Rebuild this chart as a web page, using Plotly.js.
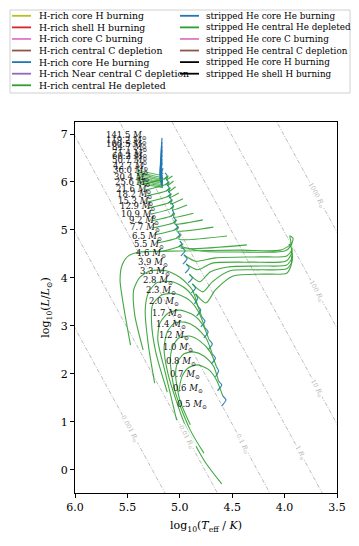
<!DOCTYPE html>
<html><head><meta charset="utf-8">
<script src="https://cdn.plot.ly/plotly-3.0.1.min.js"></script>
<style>html,body{margin:0;padding:0;background:#fff}#chart{width:359px;height:546px}</style>
</head><body><div id="chart"></div>
<script>
// ---------------- data ----------------
const massLabels = ["141.5","119.2","100.5","84.7","71.4","60.2","50.7","42.7","36.0","30.4","25.6","21.6","18.2","15.3","12.9","10.9","9.2","7.7","6.5","5.5","4.6","3.9","3.3","2.8","2.3","2.0","1.7","1.4","1.2","1.0","0.8","0.7","0.6","0.5"];

// stripped He star, core He burning (first point = He-ZAMS)
const heBurnLogT = [
 [5.17,5.18,5.165],[5.17,5.185,5.165],[5.17,5.175,5.165],[5.17,5.18,5.165],[5.17,5.19,5.165],
 [5.17,5.175,5.165],[5.17,5.185,5.165],[5.16,5.18,5.165],[5.16,5.19,5.165],
 [5.15,5.12,5.14],[5.14,5.11,5.13],[5.13,5.10,5.12],[5.12,5.09,5.11],[5.11,5.08,5.10],
 [5.09,5.06,5.08],[5.08,5.06,5.07],[5.06,5.04,5.06],[5.05,5.02,5.04],[5.03,5.00,5.02],[5.01,4.98,5.00],
 [4.99,4.95,4.98],[4.97,4.93,4.96],[4.95,4.91,4.94],[4.92,4.88,4.91],[4.89,4.85,4.88],[4.86,4.83,4.85],
 [4.84,4.80,4.83],[4.80,4.76,4.79],[4.77,4.73,4.76],[4.73,4.69,4.72],[4.70,4.66,4.69],[4.66,4.63,4.65],
 [4.64,4.60,4.63],[4.60,4.56,4.59]
];
const heBurnLogL = [
 [6.92,6.15,6.13],[6.83,6.15,6.09],[6.75,6.15,6.06],[6.67,6.15,6.03],[6.56,6.15,6.00],
 [6.48,6.15,5.97],[6.40,6.14,5.94],[6.29,6.12,5.91],[6.19,6.10,5.88],
 [6.06,6.125,6.19],[5.94,6.0,6.06],[5.81,5.875,5.94],[5.69,5.75,5.81],[5.56,5.625,5.69],
 [5.44,5.50,5.56],[5.29,5.35,5.42],[5.15,5.21,5.27],[5.0,5.06,5.125],[4.83,4.90,4.96],[4.65,4.71,4.77],
 [4.46,4.5625,4.65],[4.29,4.40,4.48],[4.10,4.21,4.29],[3.90,4.0,4.08],[3.69,3.79,3.875],[3.46,3.58,3.67],
 [3.21,3.33,3.42],[2.98,3.10,3.19],[2.75,2.875,2.96],[2.50,2.625,2.71],[2.21,2.33,2.42],[1.94,2.06,2.15],
 [1.65,1.77,1.85],[1.33,1.46,1.54]
];

// stripped He star, central He depleted
const heDeplLogT = [
 [5.165,5.23,5.41],[5.165,5.23,5.41],[5.165,5.23,5.41],[5.165,5.23,5.41],[5.165,5.23,5.41],
 [5.165,5.23,5.41],[5.165,5.23,5.41],[5.165,5.23,5.41],[5.165,5.23,5.41],
 [5.34,5.15,5.11,5.13,5.07],[5.33,5.14,5.10,5.12,5.06],[5.32,5.13,5.09,5.11,5.04],[5.31,5.12,5.08,5.10,5.01],
 [5.30,5.11,5.07,5.09,4.97],[5.28,5.09,5.06,5.07,4.93],[5.27,5.08,5.05,5.06,4.87],[5.26,5.06,5.03,5.05,4.78],
 [5.24,5.05,5.01,5.03,4.68],[5.22,5.03,4.99,5.01,4.55],[5.20,5.01,4.97,4.99,4.36],
 [4.98,4.81,4.43,4.00,3.94,3.92,3.95,3.94,4.04,4.43,5.00,5.38,5.49,5.55,5.57,5.53,5.47],
 [4.96,4.85,4.66,4.23,3.98,3.93,3.96],
 [4.94,4.83,4.69,4.33,3.99,3.94,3.93],
 [4.91,4.81,4.71,4.54,4.23,3.98,3.93,3.93],
 [4.88,4.78,4.69,4.52,4.23,3.98,3.93,3.93],
 [4.85,4.75,4.66,4.49,4.19,3.98,3.94,3.93],
 [4.83,4.88,4.99,5.13,5.28,5.38,5.44,5.43,5.35],
 [4.79,4.85,4.94,5.07,5.22,5.30,5.33,5.30,5.24],
 [4.76,4.82,4.91,5.04,5.17,5.26,5.27,5.23,5.12],
 [4.72,4.78,4.87,5.00,5.11,5.19,5.21,5.14,5.03],
 [4.69,4.75,4.85,4.95,5.05,5.12,5.15,5.11,4.95,4.76,4.60],
 [4.65,4.71,4.81,4.91,5.01,5.07,5.09,5.05,4.90,4.77],
 [4.63,4.68,4.77,4.87,4.96,5.02,5.04,5.00,4.90],
 [4.59,4.65,4.73,4.83,4.92,4.98,5.01]
];
const heDeplLogL = [
 [6.13,6.16,6.25],[6.09,6.12,6.21],[6.06,6.09,6.18],[6.03,6.06,6.14],[6.00,6.03,6.10],
 [5.97,6.00,6.07],[5.94,5.97,6.03],[5.91,5.94,6.00],[5.88,5.91,5.96],
 [5.96,6.06,6.125,6.04,6.125],[5.83,5.94,6.0,5.92,6.02],[5.71,5.81,5.875,5.79,5.90],[5.58,5.69,5.75,5.67,5.77],
 [5.46,5.56,5.625,5.54,5.65],[5.33,5.44,5.50,5.42,5.52],[5.19,5.29,5.35,5.27,5.35],[5.04,5.15,5.21,5.125,5.21],
 [4.90,5.0,5.06,4.98,5.06],[4.73,4.83,4.90,4.81,4.875],[4.54,4.65,4.71,4.625,4.69],
 [4.65,4.5625,4.54,4.5625,4.67,4.83,4.875,4.71,4.58,4.58,4.5625,4.54,4.46,4.27,3.96,3.33,2.60],
 [4.48,4.35,4.42,4.44,4.46,4.60,4.71],
 [4.29,4.17,4.31,4.33,4.35,4.48,4.625],
 [4.08,3.92,4.125,4.23,4.25,4.27,4.42,4.58],
 [3.875,3.71,3.92,4.15,4.17,4.19,4.33,4.52],
 [3.67,3.48,3.75,4.04,4.08,4.10,4.25,4.46],
 [3.42,3.75,4.0,4.15,4.15,4.02,3.75,3.23,2.50],
 [3.19,3.52,3.77,3.92,3.90,3.69,3.33,2.60,1.81],
 [2.96,3.29,3.54,3.67,3.65,3.44,3.08,2.46,1.625],
 [2.71,3.02,3.23,3.33,3.27,3.06,2.71,2.04,1.04],
 [2.42,2.75,2.98,3.08,3.06,2.875,2.54,1.98,0.94,0.17,-0.29],
 [2.15,2.46,2.69,2.79,2.75,2.56,2.25,1.67,0.83,0.35],
 [1.85,2.17,2.375,2.46,2.42,2.25,1.98,1.46,0.94],
 [1.54,1.875,2.10,2.19,2.125,1.94,1.625]
];

const radiiRsun = [0.001, 0.01, 0.1, 1, 10, 100, 1000];
const xTickVals = [6.0, 5.5, 5.0, 4.5, 4.0, 3.5];
const yTickVals = [0, 1, 2, 3, 4, 5, 6, 7];

const legendNames = [
 "H-rich core H burning","H-rich shell H burning","H-rich core C burning","H-rich central C depletion",
 "H-rich core He burning","H-rich Near central C depletion","H-rich central He depleted",
 "stripped He core He burning","stripped He central He depleted","stripped He core C burning",
 "stripped He central C depletion","stripped He core H burning","stripped He shell H burning"
];
const legendColors = ["#bcbd22","#d62728","#e377c2","#8c564b","#1f77b4","#9467bd","#2ca02c",
 "#1f77b4","#2ca02c","#e377c2","#8c564b","#000000","#000000"];

// ---------------- drawing ----------------
const FONT = "DejaVu Serif";
const W = 359, H = 546, ML = 75, MR = 22, MT = 122, MB = 53;
const PW = W - ML - MR, PH = H - MT - MB;
const px2x = px => (px - ML) / PW;
const py2y = py => (H - MB - py) / PH;

const logTsun = Math.log10(5772);
const traces = [];
radiiRsun.forEach(r => {
  const xs = [6.2, 3.3];
  traces.push({x: xs, y: xs.map(t => 2*Math.log10(r) + 4*(t - logTsun)), mode: 'lines',
    line: {color: '#8f8f8f', width: 0.6, dash: '4px,1.6px,1px,1.6px'}, hoverinfo: 'skip', showlegend: false});
});
for (let i = 0; i < massLabels.length; i++) {
  traces.push({x: heBurnLogT[i], y: heBurnLogL[i], mode: 'lines', name: legendNames[7],
    line: {color: legendColors[7], width: 1.2, shape: 'spline', smoothing: 0.6}, opacity: 0.9, showlegend: false});
  traces.push({x: heDeplLogT[i], y: heDeplLogL[i], mode: 'lines', name: legendNames[8],
    line: {color: legendColors[8], width: 1.1, shape: 'spline', smoothing: 0.7}, opacity: i < 9 ? 0.75 : 0.9, showlegend: false});
}

const annotations = [];
const shapes = [];
// mass labels at the He-ZAMS of each track
massLabels.forEach((m, i) => {
  annotations.push({x: heBurnLogT[i][0], y: heBurnLogL[i][0], xref: 'x', yref: 'y',
    text: m + ' <i>M</i><sub>⊙</sub>', showarrow: false, xanchor: 'right', yanchor: 'middle',
    xshift: -13, yshift: 2, font: {family: FONT, size: 8.5, color: '#111'}});
});
// radius line labels
const rLabelT = [5.475, 4.934, 4.397, 3.853, 3.69, 3.694, 3.694];
const ang = Math.atan((4 * PH / 7.73) / (PW / 2.5)) * 180 / Math.PI;
radiiRsun.forEach((r, i) => {
  const t = rLabelT[i];
  annotations.push({x: t, y: 2*Math.log10(r) + 4*(t - logTsun), xref: 'x', yref: 'y',
    text: r + ' <i>R</i><sub>⊙</sub>', showarrow: false, textangle: ang, bgcolor: 'white', borderpad: 0,
    font: {family: FONT, size: 6.5, color: '#b5b5b5'}});
});
// legend (drawn by hand: compact matplotlib-like spacing)
shapes.push({type: 'rect', xref: 'paper', yref: 'paper', x0: px2x(10), x1: px2x(350), y0: py2y(93), y1: py2y(10),
  line: {color: '#d0d0d0', width: 1}, fillcolor: 'rgba(255,255,255,0.8)'});
legendNames.forEach((n, i) => {
  const col = i < 7 ? 0 : 1, row = i < 7 ? i : i - 7;
  const py = 15.8 + 11.58 * row;
  const lx0 = col ? 180 : 12, lx1 = col ? 199 : 31, tx = col ? 204 : 37;
  shapes.push({type: 'line', xref: 'paper', yref: 'paper', x0: px2x(lx0), x1: px2x(lx1), y0: py2y(py), y1: py2y(py),
    line: {color: legendColors[i], width: 1.8}});
  annotations.push({xref: 'paper', yref: 'paper', x: px2x(tx), y: py2y(py), text: n, showarrow: false,
    xanchor: 'left', yanchor: 'middle', font: {family: FONT, size: col ? 8.8 : 9.3, color: '#000'}});
});

const axisCommon = {showline: true, linecolor: '#000', linewidth: 1, mirror: true, ticks: 'outside',
  ticklen: 4, tickwidth: 1, tickcolor: '#000', showgrid: false, zeroline: false,
  tickfont: {family: FONT, size: 11, color: '#000'}};
const layout = {
  width: W, height: H, margin: {l: ML, r: MR, t: MT, b: MB},
  paper_bgcolor: '#fff', plot_bgcolor: '#fff', showlegend: false,
  xaxis: Object.assign({}, axisCommon, {range: [6.0, 3.5], tickvals: xTickVals,
    ticktext: xTickVals.map(v => v.toFixed(1)),
    title: {text: 'log<sub>10</sub>(<i>T</i><sub>eff</sub> / <i>K</i>)', font: {family: FONT, size: 11, color: '#000'}, standoff: 8}}),
  yaxis: Object.assign({}, axisCommon, {range: [-0.48, 7.25], tickvals: yTickVals,
    title: {text: 'log<sub>10</sub>(<i>L</i>/<i>L</i><sub>⊙</sub>)', font: {family: FONT, size: 11, color: '#000'}, standoff: 8}}),
  annotations: annotations, shapes: shapes
};
Plotly.newPlot('chart', traces, layout, {displayModeBar: false, staticPlot: true});
</script></body></html>
